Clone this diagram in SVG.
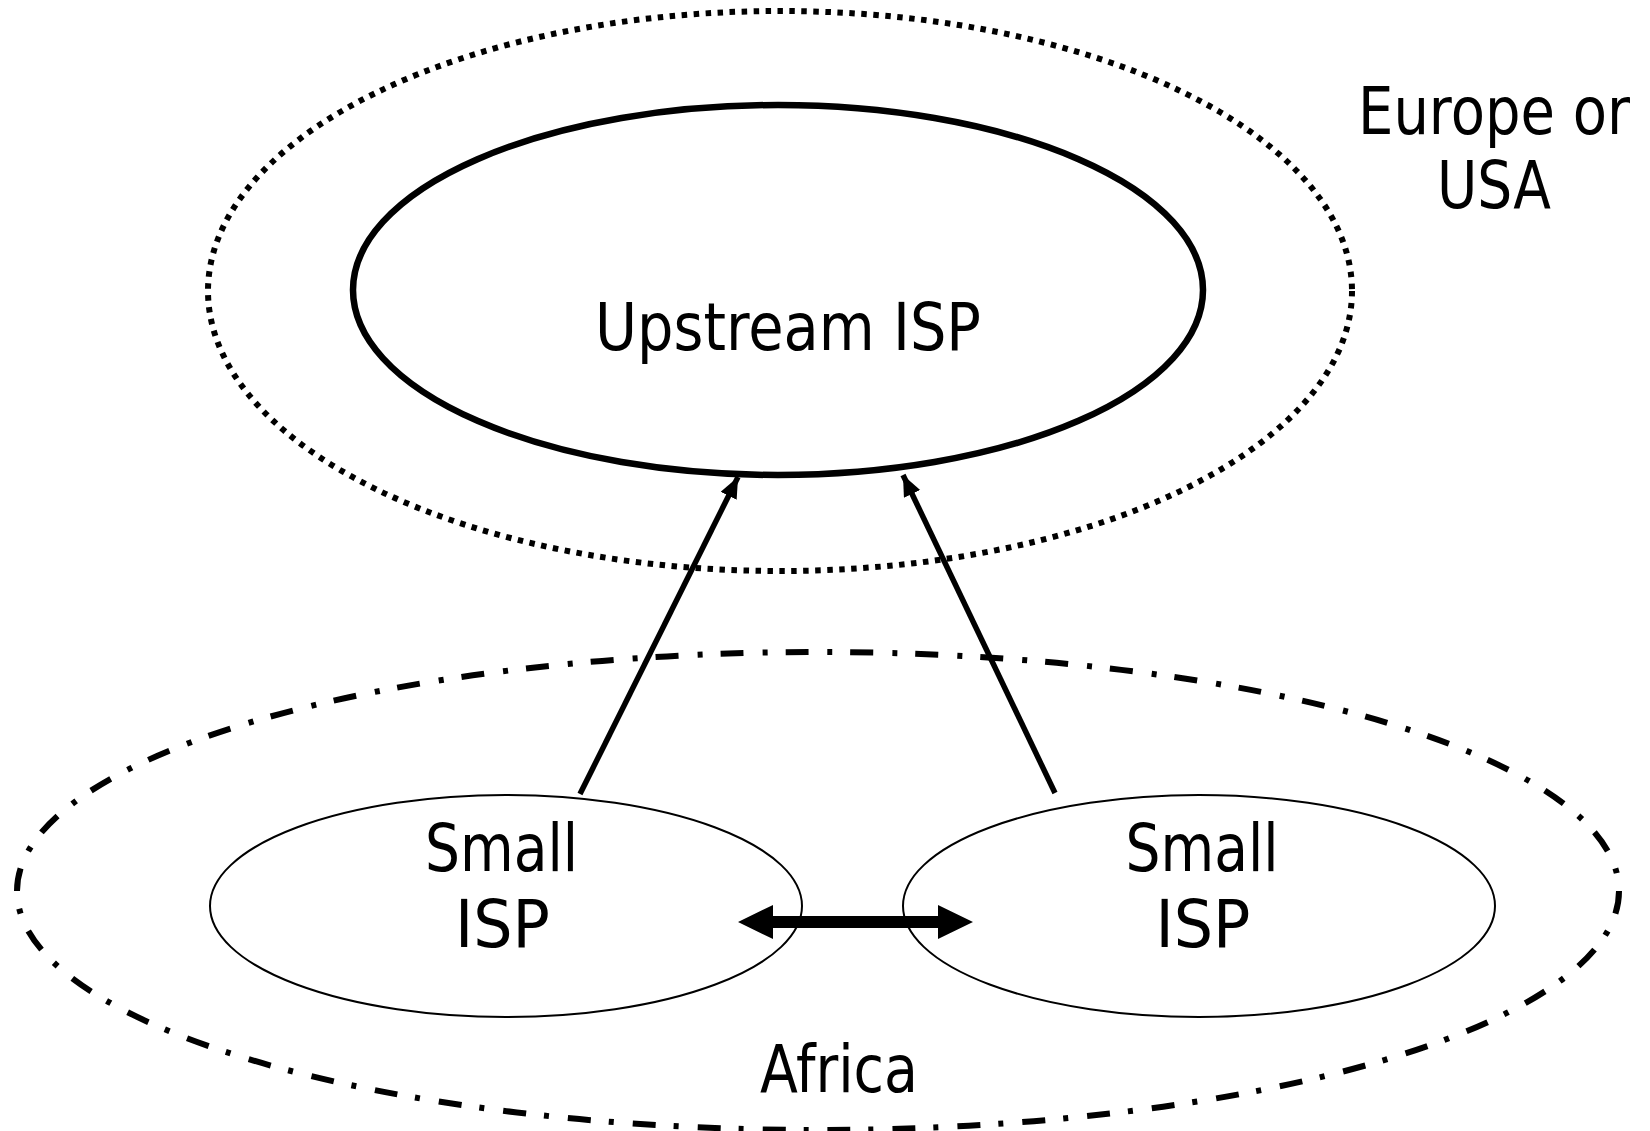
<svg xmlns="http://www.w3.org/2000/svg" width="1650" height="1131" viewBox="0 0 1650 1131">
<style>
  .region-dot { fill: none; stroke: #000; stroke-width: 6; stroke-dasharray: 5.5 6.5; }
  .region-dashdot { fill: none; stroke: #000; stroke-width: 6; stroke-dasharray: 23 19 5 18; }
  .upstream { fill: none; stroke: #000; stroke-width: 6.5; }
  .small { fill: none; stroke: #000; stroke-width: 2; }
  .lbl { font-family: "DejaVu Sans", "Liberation Sans", sans-serif; font-size: 65px; fill: #000; text-anchor: middle; }
  .link { stroke: #000; stroke-width: 5.5; fill: none; marker-end: url(#head); }
</style>
<defs>
  <marker id="head" markerUnits="userSpaceOnUse" markerWidth="24" markerHeight="20" refX="21" refY="9" orient="auto">
    <path d="M0,0 L21,9 L0,18 z" fill="#000"/>
  </marker>
</defs>
<rect width="1650" height="1131" fill="#fff"/>

<g id="region-europe">
  <ellipse class="region-dot" cx="780" cy="291" rx="572" ry="280"/>
  <text class="lbl" x="1494" y="134" textLength="272" lengthAdjust="spacingAndGlyphs">Europe or</text>
  <text class="lbl" x="1494" y="208" textLength="114" lengthAdjust="spacingAndGlyphs">USA</text>
</g>

<g id="region-africa">
  <ellipse class="region-dashdot" cx="818" cy="891" rx="801" ry="239"/>
  <text class="lbl" x="839" y="1092" textLength="158" lengthAdjust="spacingAndGlyphs">Africa</text>
</g>

<g id="upstream-isp">
  <ellipse class="upstream" cx="778" cy="290" rx="425" ry="185"/>
  <text class="lbl" x="788" y="350" textLength="386" lengthAdjust="spacingAndGlyphs">Upstream ISP</text>
</g>

<g id="small-isp-left">
  <ellipse class="small" cx="506" cy="906" rx="296" ry="111"/>
  <text class="lbl" x="501.5" y="871" textLength="153" lengthAdjust="spacingAndGlyphs">Small</text>
  <text class="lbl" x="502.5" y="947" textLength="95" lengthAdjust="spacingAndGlyphs">ISP</text>
</g>

<g id="small-isp-right">
  <ellipse class="small" cx="1199" cy="906" rx="296" ry="111"/>
  <text class="lbl" x="1202" y="871" textLength="153" lengthAdjust="spacingAndGlyphs">Small</text>
  <text class="lbl" x="1203" y="947" textLength="95" lengthAdjust="spacingAndGlyphs">ISP</text>
</g>

<g id="connectors">
  <line class="link" x1="580" y1="794" x2="738" y2="477"/>
  <line class="link" x1="1055" y1="793" x2="903" y2="475"/>
  <polygon points="738,922 773,905 773,916 938,916 938,905 973,922 938,939 938,928 773,928 773,939" fill="#000"/>
</g>
</svg>
